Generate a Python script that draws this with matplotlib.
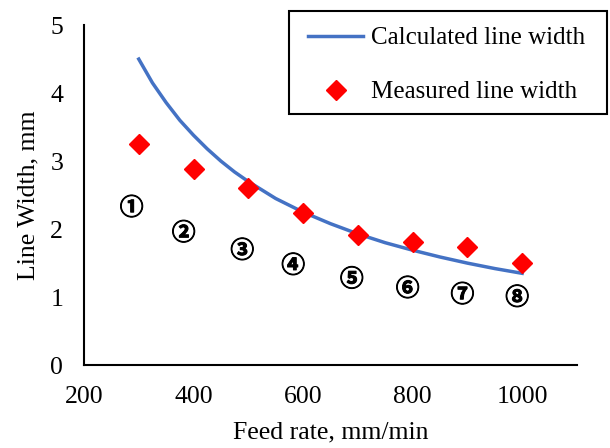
import matplotlib
matplotlib.use("Agg")
import matplotlib.pyplot as plt
import matplotlib.patheffects as pe
from matplotlib.patches import Rectangle

# data
feed_rate_calc = [300, 325, 350, 375, 400, 425, 450, 475, 500, 550, 600, 650, 700, 750,
                  800, 850, 900, 950, 1000]
width_calc = [4.50, 4.15, 3.86, 3.60, 3.38, 3.18, 3.00, 2.84, 2.70, 2.45, 2.25, 2.08,
              1.93, 1.80, 1.69, 1.59, 1.50, 1.42, 1.35]

feed_rate_meas = [300, 400, 500, 600, 700, 800, 900, 1000]
width_meas = [3.25, 2.88, 2.61, 2.23, 1.91, 1.81, 1.74, 1.50]

label_marks = ["①", "②", "③", "④", "⑤", "⑥", "⑦", "⑧"]
label_x = [287, 382, 489, 582, 689, 791, 891, 991]
label_y = [2.31, 1.94, 1.68, 1.46, 1.26, 1.12, 1.03, 0.99]

x_ticks = [200, 400, 600, 800, 1000]
y_ticks = [0, 1, 2, 3, 4, 5]

plt.rcParams["font.family"] = ["Liberation Serif"]

fig = plt.figure(figsize=(6.1, 4.48), dpi=100)
ax = fig.add_axes([0.1377, 0.185, 0.808, 0.759])

ax.plot(feed_rate_calc, width_calc, color="#4472C4", lw=2.5, label="Calculated line width")
ax.plot(feed_rate_meas, width_meas, ls="none", marker="D", ms=10.5, color="#FF0000",
        label="Measured line width")

for mark, x, y in zip(label_marks, label_x, label_y):
    ax.text(x, y, mark, ha="center", va="center", fontsize=17, fontweight="bold",
            family=["Noto Sans CJK KR", "DejaVu Sans"],
            path_effects=[pe.withStroke(linewidth=0.7, foreground="black")])

ax.set_xlim(200, 1100)
ax.set_ylim(0, 5)
ax.set_xticks(x_ticks)
ax.set_yticks(y_ticks)
ax.tick_params(length=0, labelsize=18.5)
ax.tick_params(axis="x", pad=15)
ax.tick_params(axis="y", pad=15)
for side in ["top", "right"]:
    ax.spines[side].set_visible(False)
for side in ["left", "bottom"]:
    ax.spines[side].set_linewidth(1.5)
    ax.spines[side].set_color("black")

ax.set_xlabel("Feed rate, mm/min", fontsize=18.5, labelpad=10)
ax.set_ylabel("Line Width, mm", fontsize=18.5, labelpad=8)

# legend entries without frame, box drawn separately (wider side padding, like Excel)
fig.legend(loc="upper right", bbox_to_anchor=(0.959, 0.940), borderaxespad=0,
           fontsize=18, frameon=False, handlelength=2.2, borderpad=0,
           labelspacing=1.26, handletextpad=0.3)
fig.patches.append(Rectangle((0.474, 0.746), 0.521, 0.23, transform=fig.transFigure,
                             fill=False, edgecolor="black", lw=1.5))

fig.savefig("out.png", dpi=100)
